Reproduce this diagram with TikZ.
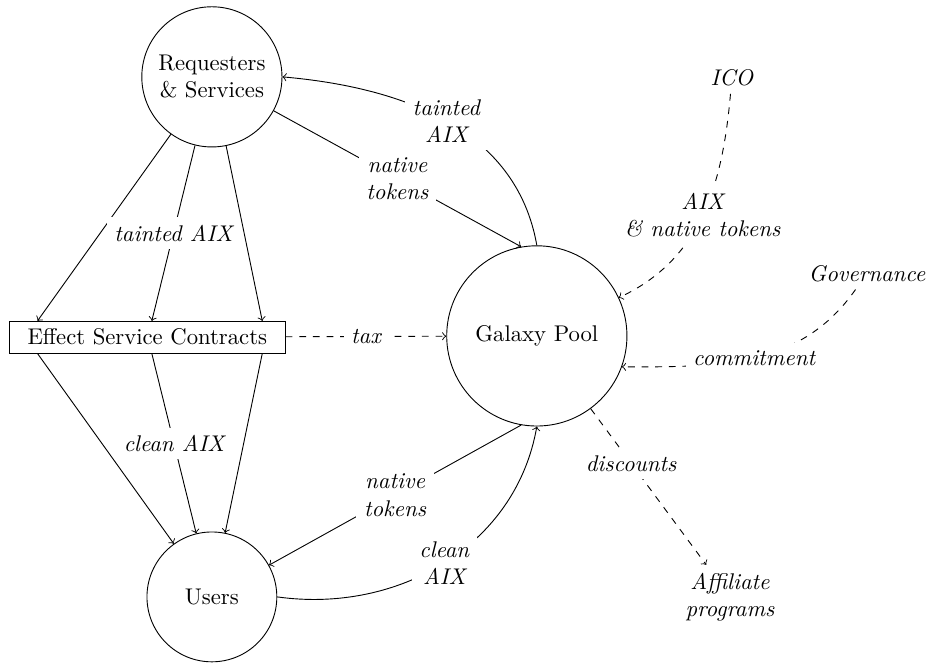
\documentclass[tikz,border=0pt]{standalone}
\begin{document}
\begin{tikzpicture}[x=1cm, y=1cm,
	actor/.style={draw, circle, align=center},
	lbl/.style={fill=white, font=\itshape, align=center},
	ext/.style={font=\itshape, align=center}]
	\useasboundingbox (0,0) rectangle (14.35,10.25);
	%parties
	\node[actor, minimum size=2.17cm] (req) at (3.28,9.06) {Requesters\\\& Services};
	\node[actor, minimum size=2.79cm] (gal) at (8.31,5.05) {Galaxy Pool};
	\node[actor, minimum size=2.01cm] (users) at (3.28,1.01) {Users};
	\node[draw, minimum width=4.27cm] (esc) at (2.28,5.03) {Effect Service Contracts};
	%outside
	\node[ext] (ico) at (11.33,9.05) {ICO};
	\node[ext] (gov) at (13.42,6.02) {Governance};
	\node[ext] (aff) at (11.3,1.01) {Affiliate\\programs};
	%requesters to contracts
	\draw[->] (req) -- ([xshift=-1.7cm]esc.north);
	\draw[->] (req) -- ([xshift=1.78cm]esc.north);
	\draw[->] (req) -- node[lbl] {tainted AIX} ([xshift=.07cm]esc.north);
	%contracts to users
	\draw[->] ([xshift=-1.7cm]esc.south) -- (users);
	\draw[->] ([xshift=1.78cm]esc.south) -- (users);
	\draw[->] ([xshift=.07cm]esc.south) -- node[lbl] {clean AIX} (users);
	%pool
	\draw[->] (req) -- node[lbl] {native\\tokens} (gal.100);
	\draw[->] (gal.north) to[out=100, in=-5] node[lbl] {tainted\\AIX} (req.east);
	\draw[->] (gal.260) -- node[lbl] {native\\tokens} (users);
	\draw[->] (users.east) to[out=-8, in=260] node[lbl] {clean\\AIX} (gal.south);
	\draw[->, dashed] (esc) -- node[lbl] {tax} (gal);
	%outside to pool
	\draw[->, dashed] (ico) to[out=-95, in=25] node[lbl] {AIX\\\& native tokens} (gal);
	\draw[->, dashed] (gov) to[out=-125, in=0] node[lbl] {commitment} (gal.-20);
	\draw[->, dashed] (gal) -- node[lbl, pos=.35] {discounts} (aff);
\end{tikzpicture}
\end{document}
